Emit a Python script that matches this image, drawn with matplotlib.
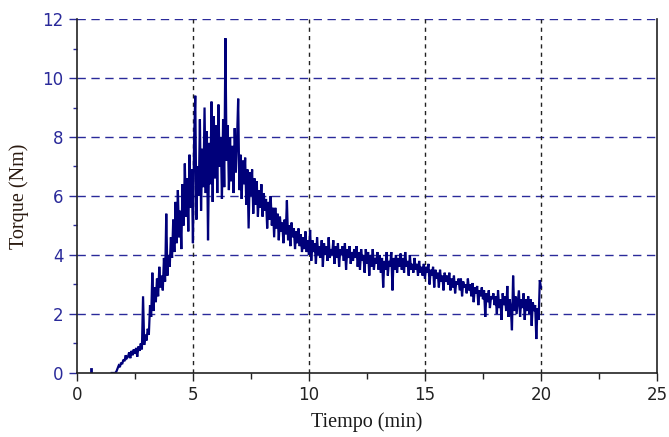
import numpy as np
import matplotlib.pyplot as plt
from matplotlib.ticker import MultipleLocator

# torque readings (Nm), sampled every 0.05 min
step = 0.05

# rise: 1.50 -> 4.95 min
t_rise_start = 1.5
torque_rise = [
    0.0, 0.0, 0.0, 0.0, 0.05,
    0.15, 0.25, 0.2, 0.35, 0.3,
    0.45, 0.4, 0.6, 0.5, 0.55,
    0.7, 0.5, 0.75, 0.6, 0.8,
    0.65, 0.85, 0.55, 0.9, 0.75,
    1.0, 0.8, 2.6, 0.95, 1.3,
    1.1, 1.5, 1.3, 2.3, 1.9,
    3.4, 2.1, 2.9, 2.4, 3.2,
    2.6, 3.6, 2.9, 3.3, 2.8,
    3.9, 3.1, 5.4, 3.3, 4.0,
    3.6, 4.6, 3.9, 5.2, 4.1,
    5.8, 4.4, 6.2, 4.6, 5.5,
    4.2, 6.4, 5.0, 7.1, 5.3,
    6.6, 4.8, 7.4, 5.6, 6.9,
]

# peak: 5.00 -> 7.95 min
t_peak_start = 5.0
torque_peak = [
    4.4, 7.9, 9.4, 5.2, 7.0,
    6.0, 8.6, 5.5, 7.6, 6.3,
    9.0, 6.1, 8.2, 4.5, 7.8,
    6.4, 9.2, 5.8, 8.7, 6.6,
    8.4, 6.1, 9.1, 7.0, 8.0,
    5.9, 8.6, 6.3, 11.35, 7.2,
    8.4, 6.2, 8.0, 6.5, 7.7,
    6.1, 8.3, 6.8, 7.9, 9.3,
    6.2, 7.4, 5.9, 7.2, 6.4,
    7.3, 5.7, 6.9, 4.9, 6.8,
    6.0, 6.9, 5.4, 6.6, 5.7,
    6.5, 5.3, 6.2, 5.6, 6.4,
]

# decay: 8.00 -> 20.00 min
t_decay_start = 8.0
torque_decay = [
    5.3, 6.1, 5.5, 5.9, 4.9, 5.8, 5.2, 6.0, 5.0, 5.6,
    4.6, 5.6, 4.9, 5.4, 4.5, 5.3, 4.8, 5.1, 4.4, 5.2,
    4.7, 5.85, 4.5, 5.0, 4.3, 5.1, 4.6, 4.9, 4.2, 4.8,
    4.4, 4.9, 4.3, 4.7, 4.1, 4.6, 4.2, 4.8, 4.1, 4.5,
    4.0, 4.85, 3.8, 4.5, 4.1, 4.4, 3.7, 4.6, 4.0, 4.3,
    3.9, 4.5, 3.6, 4.4, 4.0, 4.3, 3.8, 4.6, 3.9, 4.2,
    4.0, 4.5, 3.7, 4.3, 3.9, 4.4, 3.6, 4.2, 4.0, 4.3,
    3.8, 4.4, 3.5, 4.2, 3.9, 4.3, 3.7, 4.1, 3.8, 4.2,
    3.9, 4.3, 3.6, 4.1, 3.5, 4.2, 3.8, 4.0, 3.4, 4.2,
    3.7, 4.1, 3.3, 4.0, 3.6, 4.2, 3.5, 3.9, 3.7, 4.1,
    3.5, 4.0, 3.4, 3.9, 2.9, 3.8, 3.5, 4.1, 3.3, 3.8,
    3.6, 4.1, 2.8, 3.9, 3.5, 4.0, 3.4, 3.9, 3.6, 4.05,
    3.5, 3.9, 3.4, 4.1, 3.6, 3.8, 3.3, 4.0, 3.5, 3.7,
    3.4, 3.9, 3.5, 3.7, 3.3, 3.8, 3.4, 3.6, 3.3, 3.7,
    3.2, 3.6, 3.4, 3.7, 3.0, 3.5, 3.3, 3.6, 2.9, 3.5,
    3.2, 3.4, 2.9, 3.5, 3.1, 3.3, 2.8, 3.4, 3.1, 3.3,
    3.0, 3.4, 2.8, 3.2, 2.9, 3.3, 2.7, 3.1, 3.0, 3.2,
    2.8, 3.2, 2.6, 3.1, 2.9, 3.0, 2.7, 3.2, 2.8, 3.0,
    2.6, 3.05, 2.4, 2.9, 2.7, 2.95, 2.3, 2.8, 2.6, 2.9,
    2.5, 2.8, 1.9, 2.7, 2.4, 2.8, 2.2, 2.6, 2.5, 2.7,
    2.3, 2.6, 2.0, 2.8, 2.2, 2.5, 1.8, 2.7, 2.3, 2.6,
    2.1, 2.95, 1.9, 2.5, 2.2, 1.45, 3.3, 2.1, 2.6, 2.0,
    2.4, 2.8, 1.9, 2.5, 2.2, 2.7, 1.8, 2.5, 2.1, 2.6,
    2.0, 2.5, 1.6, 2.4, 2.1, 2.3, 1.15, 2.2, 1.8, 3.15,
    2.9,
]

# isolated blip near the start
blip_t = [0.59, 0.59]
blip_v = [0.0, 0.12]

t_all = np.concatenate([
    t_rise_start + step * np.arange(len(torque_rise)),
    t_peak_start + step * np.arange(len(torque_peak)),
    t_decay_start + step * np.arange(len(torque_decay)),
])
v_all = np.concatenate([torque_rise, torque_peak, torque_decay])

navy = '#00007a'
grid_blue = '#2a2a9a'

fig = plt.figure(figsize=(6.69, 4.37), dpi=100)
ax = fig.add_axes([0.115, 0.1465, 0.867, 0.81])

ax.plot(t_all, v_all, color=navy, lw=1.6, solid_joinstyle='miter')
ax.plot(blip_t, blip_v, color=navy, lw=2.0)

ax.set_xlim(0, 25)
ax.set_ylim(0, 12)
ax.xaxis.set_major_locator(MultipleLocator(5))
ax.xaxis.set_minor_locator(MultipleLocator(2.5))
ax.yaxis.set_major_locator(MultipleLocator(2))
ax.yaxis.set_minor_locator(MultipleLocator(1))

# grid: blue dashed horizontals, black dashed verticals
for yv in range(2, 13, 2):
    ax.axhline(yv, color=grid_blue, lw=1.0, ls=(0, (6, 4)), zorder=0)
for xv in range(5, 25, 5):
    ax.axvline(xv, color='#222222', lw=1.0, ls=(0, (3, 3)), zorder=0)

ax.spines['top'].set_visible(False)
for s in ['left', 'bottom', 'right']:
    ax.spines[s].set_color('#222222')
    ax.spines[s].set_linewidth(1.2)

ax.tick_params(axis='y', which='major', length=6, width=1, color=grid_blue,
               labelcolor=grid_blue, labelsize=12)
ax.tick_params(axis='y', which='minor', length=3, width=1, color=grid_blue)
ax.tick_params(axis='x', which='major', length=6, width=1, color='#222222',
               labelcolor='#222222', labelsize=12)
ax.tick_params(axis='x', which='minor', length=4, width=1, color='#222222')

ax.set_xlabel('Tiempo (min)', family='Liberation Serif', fontsize=14.5,
              color='#1a1a1a', labelpad=6)
ax.set_ylabel('Torque (Nm)', family='Liberation Serif', fontsize=14.5,
              color='#2a1a10', labelpad=10)

fig.savefig('out.png', dpi=100)
